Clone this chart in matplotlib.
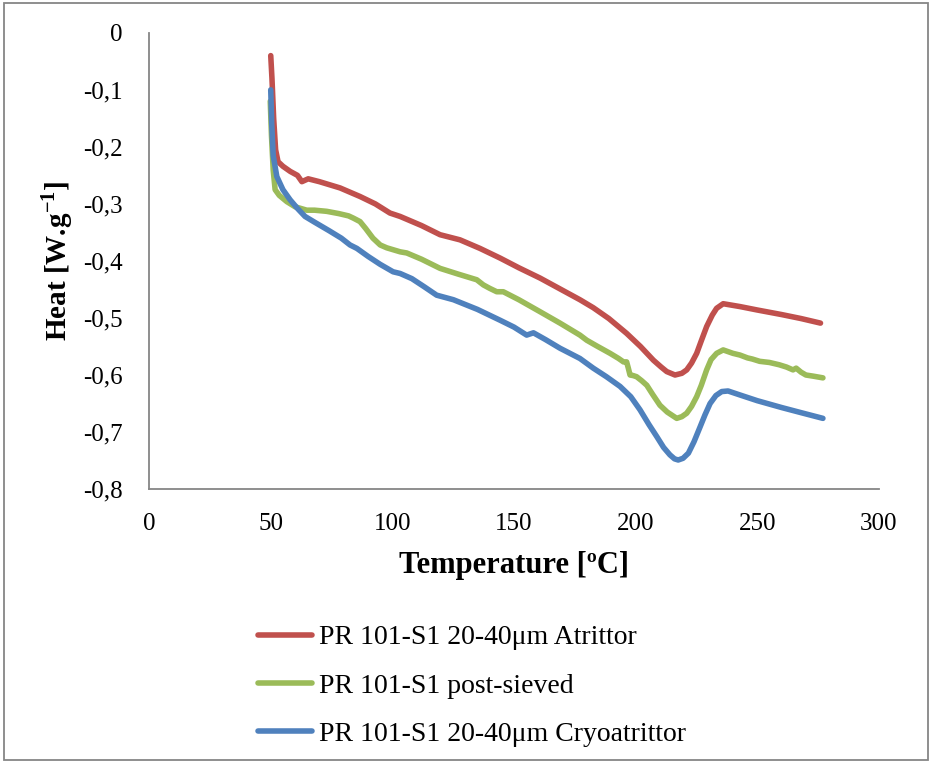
import matplotlib
matplotlib.use("Agg")
import matplotlib.pyplot as plt
from matplotlib.patches import Rectangle
from matplotlib.ticker import FuncFormatter

# DSC traces, temperature [ºC] vs heat flow [W/g]
t_atr = [50.0, 50.5, 51.2, 52.0, 53.0, 55.0, 58.0, 61.0, 62.8, 65.4, 70.0, 78.5, 86.7, 93.0,
         99.0, 103.2, 112.0, 119.6, 127.8, 136.0, 144.3, 152.0, 160.7, 168.9, 177.1, 182.6,
         189.0, 196.3, 202.0, 207.3, 210.5, 212.8, 216.2, 219.0, 221.0, 223.0, 225.1, 227.0,
         229.2, 231.5, 233.3, 236.0, 242.9, 250.0, 260.0, 268.0, 276.0]
h_atr = [-0.040, -0.080, -0.150, -0.205, -0.226, -0.234, -0.243, -0.250, -0.261, -0.256,
         -0.261, -0.272, -0.287, -0.300, -0.316, -0.322, -0.338, -0.354, -0.363, -0.378,
         -0.395, -0.412, -0.430, -0.449, -0.468, -0.482, -0.501, -0.527, -0.550, -0.574,
         -0.586, -0.594, -0.600, -0.597, -0.591, -0.579, -0.562, -0.540, -0.515, -0.495,
         -0.483, -0.475, -0.480, -0.486, -0.494, -0.501, -0.509]

t_sie = [49.8, 50.3, 51.0, 51.8, 53.5, 56.6, 60.0, 64.8, 68.0, 73.0, 78.0, 82.0, 84.0, 86.7,
         89.0, 92.0, 95.0, 97.7, 103.2, 105.9, 112.0, 119.6, 127.0, 134.7, 137.4, 140.0,
         142.9, 145.6, 152.0, 160.7, 168.9, 177.1, 179.9, 184.0, 189.5, 193.0, 195.0, 196.3,
         197.0, 197.7, 199.0, 200.4, 202.5, 204.6, 207.0, 210.0, 213.0, 216.9, 219.0, 221.0,
         223.0, 225.1, 227.0, 229.2, 231.0, 233.3, 236.0, 240.0, 242.9, 246.0, 248.0, 251.0,
         255.0, 259.0, 262.0, 264.7, 266.0, 268.0, 270.0, 273.0, 277.0]
h_sie = [-0.120, -0.180, -0.240, -0.275, -0.285, -0.296, -0.305, -0.311, -0.311, -0.313,
         -0.317, -0.321, -0.325, -0.331, -0.343, -0.360, -0.372, -0.377, -0.384, -0.386,
         -0.397, -0.413, -0.423, -0.433, -0.442, -0.448, -0.454, -0.454, -0.468, -0.489,
         -0.509, -0.530, -0.539, -0.549, -0.562, -0.571, -0.577, -0.577, -0.588, -0.600,
         -0.601, -0.603, -0.610, -0.618, -0.634, -0.653, -0.665, -0.676, -0.673, -0.667,
         -0.655, -0.638, -0.618, -0.591, -0.573, -0.562, -0.556, -0.562, -0.565, -0.570,
         -0.572, -0.576, -0.578, -0.582, -0.586, -0.591, -0.588, -0.595, -0.600, -0.602,
         -0.605]

t_cryo = [50.0, 50.4, 51.0, 52.5, 55.0, 58.0, 61.0, 64.1, 68.0, 74.0, 79.0, 82.6, 85.4, 90.0,
          95.0, 100.3, 103.2, 108.0, 113.0, 118.2, 125.1, 135.0, 144.3, 150.0, 155.2, 158.0,
          163.0, 168.9, 177.1, 182.6, 188.0, 193.6, 198.0, 201.8, 205.5, 208.7, 211.5, 214.1,
          216.0, 217.5, 219.5, 221.7, 224.0, 226.5, 228.5, 230.6, 233.0, 235.4, 238.0, 242.9,
          250.0, 260.0, 268.0, 277.0]
h_cryo = [-0.100, -0.160, -0.215, -0.252, -0.275, -0.293, -0.308, -0.322, -0.332, -0.347,
          -0.360, -0.372, -0.378, -0.392, -0.406, -0.419, -0.422, -0.431, -0.445, -0.460,
          -0.468, -0.485, -0.504, -0.516, -0.530, -0.526, -0.538, -0.553, -0.571, -0.588,
          -0.603, -0.620, -0.638, -0.661, -0.687, -0.708, -0.727, -0.740, -0.747, -0.749,
          -0.746, -0.737, -0.717, -0.691, -0.670, -0.650, -0.636, -0.629, -0.628, -0.635,
          -0.645, -0.657, -0.666, -0.676]

labels = ["PR 101-S1 20-40μm Atrittor", "PR 101-S1 post-sieved",
          "PR 101-S1 20-40μm Cryoatrittor"]
colors = ["#C0504D", "#9BBB59", "#4F81BD"]

plt.rcParams["font.family"] = ["Liberation Serif", "DejaVu Serif"]
plt.rcParams["mathtext.fontset"] = "custom"
plt.rcParams["mathtext.rm"] = "Liberation Serif"
plt.rcParams["mathtext.bf"] = "Liberation Serif:bold"

fig = plt.figure(figsize=(9.32, 7.63), dpi=100)
ax = fig.add_axes([0.160, 0.359, 0.783, 0.598])

for t, h, c, lab in zip([t_atr, t_sie, t_cryo], [h_atr, h_sie, h_cryo], colors, labels):
    ax.plot(t, h, color=c, lw=4.0, label=lab, solid_capstyle="round", solid_joinstyle="round")

ax.set_xlim(0, 300)
ax.set_ylim(-0.8, 0)
ax.set_xticks(range(0, 301, 50))
ax.set_yticks([i / 10 for i in range(-8, 1)])
ax.yaxis.set_major_formatter(FuncFormatter(lambda v, p: "0" if abs(v) < 1e-9 else f"{v:.1f}".replace(".", ",")))
ax.tick_params(length=0, labelsize=18)
ax.tick_params(axis="y", pad=19)
ax.tick_params(axis="x", pad=17)

for s in ["top", "right"]:
    ax.spines[s].set_visible(False)
for s in ["left", "bottom"]:
    ax.spines[s].set_color("#868686")
    ax.spines[s].set_linewidth(1.3)

ax.set_xlabel("Temperature [ºC]", fontsize=22, fontweight="bold", labelpad=12)
ax.set_ylabel(r"Heat [W.g$^{\mathbf{-1}}$]", fontsize=21, fontweight="bold", labelpad=6)

leg = ax.legend(loc="upper left", bbox_to_anchor=(0.149, -0.298), frameon=False,
                borderpad=0, borderaxespad=0, fontsize=20, handlelength=1.95,
                handletextpad=0.25, labelspacing=0.82)

fig.patches.append(Rectangle((0.004, 0.004), 0.992, 0.992, transform=fig.transFigure,
                             fill=False, edgecolor="#868686", lw=1.3))

fig.savefig("out.png", dpi=100)
